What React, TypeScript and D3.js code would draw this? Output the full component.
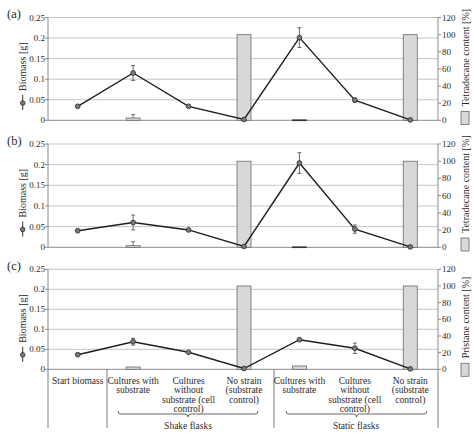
import React from "react";
import * as d3 from "d3";

const categories = ["start", "shakeWith", "shakeWithout", "shakeNone", "staticWith", "staticWithout", "staticNone"];
const categoryLines = [
  ["Start biomass"],
  ["Cultures with", "substrate"],
  ["Cultures", "without", "substrate (cell", "control)"],
  ["No strain", "(substrate", "control)"],
  ["Cultures with", "substrate"],
  ["Cultures", "without", "substrate (cell", "control)"],
  ["No strain", "(substrate", "control)"],
];
const groupLabels = ["Shake flasks", "Static flasks"];
const leftTicks = [0, 0.05, 0.1, 0.15, 0.2, 0.25];
const rightTicks = [0, 20, 40, 60, 80, 100, 120];

const panelLabels = ["(a)", "(b)", "(c)"];
const rightTitles = ["Tetradecane content [%]", "Tetradecane content [%]", "Pristane content [%]"];

const biomassA = [0.034, 0.115, 0.034, 0.002, 0.201, 0.049, 0.001];
const biomassErrA = [0, 0.018, 0, 0, 0.024, 0.005, 0];
const contentA = [null, 2.7, null, 100, 0.5, null, 100];
const contentErrA = [0, 4, 0, 0, 0, 0, 0];

const biomassB = [0.04, 0.06, 0.042, 0.002, 0.204, 0.044, 0.001];
const biomassErrB = [0, 0.018, 0, 0, 0.025, 0.01, 0];
const contentB = [null, 1.9, null, 100, 0.5, null, 100];
const contentErrB = [0, 4.6, 0, 0, 0, 0, 0];

const biomassC = [0.0365, 0.069, 0.0425, 0.002, 0.074, 0.0525, 0.001];
const biomassErrC = [0, 0.0085, 0, 0, 0, 0.013, 0];
const contentC = [null, 2.8, null, 100, 4, null, 100];
const contentErrC = [0, 0, 0, 0, 0, 0, 0];

const panels = [
  { top: 17.5, bottom: 120.3, biomass: biomassA, bErr: biomassErrA, content: contentA, cErr: contentErrA },
  { top: 144, bottom: 247.3, biomass: biomassB, bErr: biomassErrB, content: contentB, cErr: contentErrB },
  { top: 269.3, bottom: 369.3, biomass: biomassC, bErr: biomassErrC, content: contentC, cErr: contentErrC },
];

const X0 = 48;
const X1 = 438;
const FONT = "Liberation Serif";
const TXT = "#2a2a2a";

export default function App() {
  const x = d3.scaleBand<string>().domain(categories).range([50, X1]).padding(0);
  const cx = (i: number) => (x(categories[i]) as number) + x.bandwidth() / 2;
  const barW = 14;

  return (
    <svg width={474} height={434} style={{ position: "absolute", left: 0, top: 0, background: "#fff" }}>
      <rect width={474} height={434} fill="#fff" />
      {panels.map((p, pi) => {
        const yL = d3.scaleLinear().domain([0, 0.25]).range([p.bottom, p.top]);
        const yR = d3.scaleLinear().domain([0, 120]).range([p.bottom, p.top]);
        const line = d3
          .line<number>()
          .x((_, i) => cx(i))
          .y((d) => yL(d));
        return (
          <g key={pi}>
            {leftTicks.slice(1).map((t) => (
              <line key={t} x1={X0} x2={X1} y1={yL(t)} y2={yL(t)} stroke="#c4c4c4" strokeWidth={1} />
            ))}
            <line x1={X0} x2={X0} y1={p.top} y2={p.bottom} stroke="#8a8a8a" />
            <line x1={X1} x2={X1} y1={p.top} y2={p.bottom} stroke="#8a8a8a" />
            <line x1={X0} x2={X1} y1={p.bottom} y2={p.bottom} stroke="#8a8a8a" />
            {leftTicks.map((t) => (
              <g key={"l" + t}>
                <line x1={X0 - 3} x2={X0} y1={yL(t)} y2={yL(t)} stroke="#8a8a8a" />
                <text x={45} y={yL(t) + 3} textAnchor="end" fontSize={9} fill={TXT} fontFamily={FONT}>
                  {t === 0 ? "0" : String(t)}
                </text>
              </g>
            ))}
            {rightTicks.map((t) => (
              <g key={"r" + t}>
                <line x1={X1} x2={X1 + 3} y1={yR(t)} y2={yR(t)} stroke="#8a8a8a" />
                <text x={442} y={yR(t) + 3} textAnchor="start" fontSize={9} fill={TXT} fontFamily={FONT}>
                  {t}
                </text>
              </g>
            ))}
            {p.content.map((v, i) =>
              v == null ? null : (
                <g key={"b" + i}>
                  <rect
                    x={cx(i) - barW / 2}
                    width={barW}
                    y={yR(v)}
                    height={Math.max(yR(0) - yR(v), 0.8)}
                    fill={v < 1 ? "#333" : "#d8d8d8"}
                    stroke={v < 1 ? "#333" : "#6a6a6a"}
                    strokeWidth={0.8}
                  />
                  {p.cErr[i] > 0 && (
                    <g stroke="#555" strokeWidth={0.8}>
                      <line x1={cx(i)} x2={cx(i)} y1={yR(v)} y2={yR(v + p.cErr[i])} />
                      <line x1={cx(i) - 2} x2={cx(i) + 2} y1={yR(v + p.cErr[i])} y2={yR(v + p.cErr[i])} />
                    </g>
                  )}
                </g>
              )
            )}
            <path d={line(p.biomass) || ""} fill="none" stroke="#1e1e1e" strokeWidth={1.4} />
            {p.biomass.map((v, i) =>
              p.bErr[i] > 0 ? (
                <g key={"e" + i} stroke="#444" strokeWidth={0.8}>
                  <line x1={cx(i)} x2={cx(i)} y1={yL(v - p.bErr[i])} y2={yL(v + p.bErr[i])} />
                  <line x1={cx(i) - 2} x2={cx(i) + 2} y1={yL(v + p.bErr[i])} y2={yL(v + p.bErr[i])} />
                  <line x1={cx(i) - 2} x2={cx(i) + 2} y1={yL(v - p.bErr[i])} y2={yL(v - p.bErr[i])} />
                </g>
              ) : null
            )}
            {p.biomass.map((v, i) => (
              <circle key={"c" + i} cx={cx(i)} cy={yL(v)} r={2.4} fill="#7a7a7a" stroke="#2a2a2a" strokeWidth={0.8} />
            ))}
            <text x={7} y={p.top + 0.5} fontSize={12.5} fill={TXT} fontFamily={FONT}>
              {panelLabels[pi]}
            </text>
            <text transform={`translate(26,${p.top + 73.5}) rotate(-90)`} fontSize={10} fill={TXT} textAnchor="start" fontFamily={FONT}>
              Biomass [g]
            </text>
            <line x1={22.7} x2={22.7} y1={p.top + 77.5} y2={p.top + 92.5} stroke="#333" strokeWidth={1} />
            <circle cx={22.7} cy={p.top + 85.5} r={2.3} fill="#7a7a7a" stroke="#2a2a2a" strokeWidth={0.8} />
            <text transform={`translate(468.5,${p.top + 89}) rotate(-90)`} fontSize={10} fill={TXT} textAnchor="start" fontFamily={FONT}>
              {rightTitles[pi]}
            </text>
            <rect x={461} y={p.top + 94} width={8} height={13} fill="#d8d8d8" stroke="#6a6a6a" strokeWidth={0.8} />
          </g>
        );
      })}
      {(() => {
        const top = panels[2].bottom;
        const bottom = 428;
        const sep1 = 107;
        const sep2 = 274;
        const brace = (a: number, b: number, y: number) => {
          const m = (a + b) / 2;
          return `M${a},${y - 3} Q${a},${y} ${a + 3},${y} L${m - 3},${y} Q${m},${y} ${m},${y + 3} Q${m},${y} ${m + 3},${y} L${b - 3},${y} Q${b},${y} ${b},${y - 3}`;
        };
        return (
          <g>
            {[X0, sep1, sep2, X1].map((xv, i) => (
              <line key={i} x1={xv} x2={xv} y1={top} y2={bottom} stroke="#7a7a7a" />
            ))}
            {categoryLines.map((lines, i) => (
              <text key={i} textAnchor="middle" fontSize={9.5} fill={TXT} fontFamily={FONT}>
                {lines.map((l, j) => (
                  <tspan key={j} x={cx(i)} y={384 + j * 9.3}>
                    {l}
                  </tspan>
                ))}
              </text>
            ))}
            <path d={brace(118, 258, 414)} fill="none" stroke="#555" strokeWidth={0.9} />
            <path d={brace(286, 427, 414)} fill="none" stroke="#555" strokeWidth={0.9} />
            <text x={188} y={428.5} textAnchor="middle" fontSize={9.5} fill={TXT} fontFamily={FONT}>
              {groupLabels[0]}
            </text>
            <text x={356} y={428.5} textAnchor="middle" fontSize={9.5} fill={TXT} fontFamily={FONT}>
              {groupLabels[1]}
            </text>
          </g>
        );
      })()}
    </svg>
  );
}
